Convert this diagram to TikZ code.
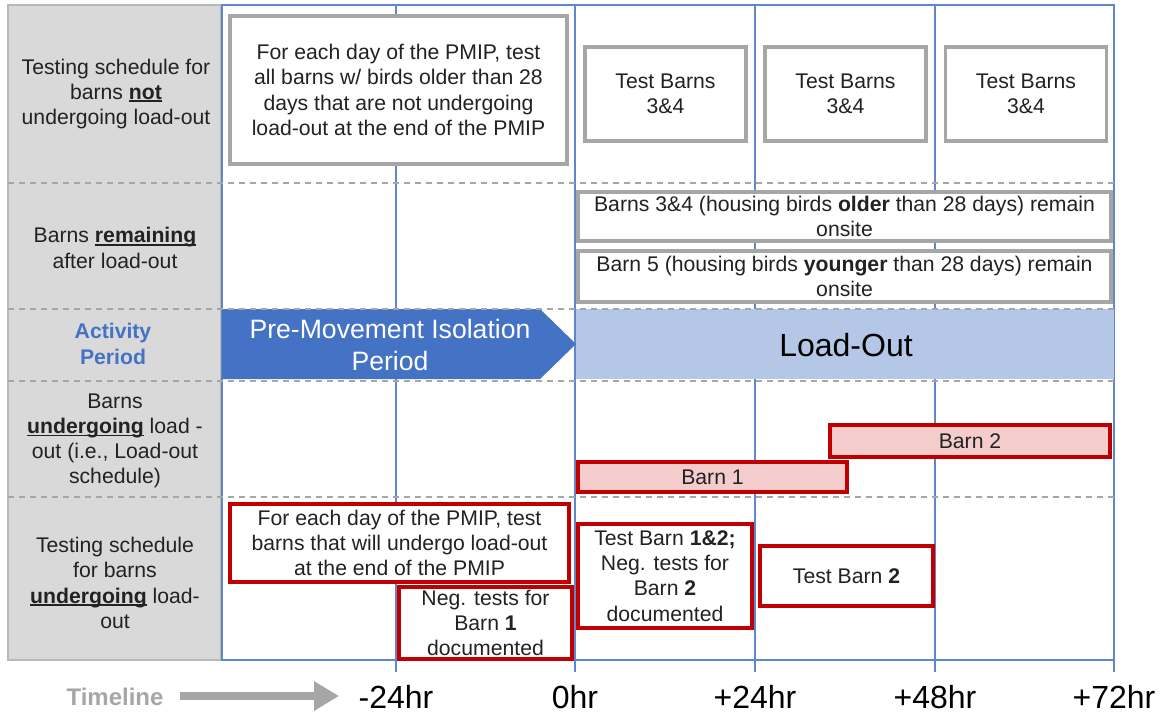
\documentclass[tikz,border=0pt]{standalone}
\usepackage{fontspec}
\setmainfont{Liberation Sans}
\usetikzlibrary{arrows.meta}

\definecolor{gridblue}{HTML}{4472C4}
\definecolor{bandblue}{HTML}{B4C7E7}
\definecolor{boxgray}{HTML}{A6A6A6}
\definecolor{labelgray}{HTML}{D9D9D9}
\definecolor{barred}{HTML}{C00000}
\definecolor{barpink}{HTML}{F4CCCC}
\definecolor{ink}{HTML}{222222}

% bold word with a rule close under the baseline
\newcommand{\bul}[1]{\setbox0\hbox{\textbf{#1}}\rlap{\rule[-1.4pt]{\wd0}{0.9pt}}\box0\relax}

\tikzset{
    txt/.style={font=\fontsize{10.6}{12.6}\selectfont, text=ink, align=center, inner sep=0pt},
    graybox/.style={txt, draw=boxgray, line width=1.8pt, fill=white},
    redbox/.style={txt, draw=barred, line width=1.6pt, fill=white},
    loadbar/.style={redbox, fill=barpink},
    rowsep/.style={draw=boxgray, dash pattern=on 3pt off 2.5pt, line width=0.8pt},
    gridline/.style={draw=gridblue!85, line width=0.55pt},
    hour/.style={font=\fontsize{16}{18}\selectfont, text=black},
}

\begin{document}
\begin{tikzpicture}[x=0.5pt, y=-0.5pt]
    \useasboundingbox (0,0) rectangle (1165,717);

    % label column and time grid
    \fill[labelgray] (8,5) rectangle (221,660);
    \draw[boxgray!80, line width=0.8pt] (8,5) rectangle (221,660);
    \draw[gridline] (222,5) rectangle (1114,660);
    \foreach \x in {396,575,755,935}
        \draw[gridline] (\x,5) -- (\x,672);
    \draw[gridline] (1114,660) -- (1114,672);

    % activity period bands
    \fill[gridblue] (222,309) -- (540,309) -- (576,344) -- (540,379) -- (222,379) -- cycle;
    \node[font=\fontsize{13.3}{16}\selectfont, text=white, align=center] (pmip) at (390,345)
        {Pre-Movement Isolation\\Period};
    \fill[bandblue] (576,309) rectangle (1114,379);
    \node[font=\fontsize{16}{18}\selectfont, text=black] (loadout) at (846,345) {Load-Out};

    % row separators
    \foreach \y in {183,309,381,497}
        \draw[rowsep] (8,\y) -- (1114,\y);

    % row labels
    \node[txt] (notlbl) at (116,94) {Testing schedule for\\barns \bul{not}\\undergoing load-out};
    \node[txt] (remlbl) at (115,248) {Barns \bul{remaining}\\after load-out};
    \node[txt, text=gridblue, font=\bfseries\fontsize{10.6}{12.6}\selectfont] (actlbl) at (113,344) {Activity\\Period};
    \node[txt] (underlbl) at (115,441) {Barns\\\bul{undergoing} load -\\out (i.e., Load-out\\schedule)};
    \node[txt] (testlbl) at (115,583) {Testing schedule\\for barns\\\bul{undergoing} load-\\out};

    % barns not undergoing load-out
    \node[graybox, minimum width=168.5pt, minimum height=74pt] (pmipall) at (398.5,90)
        {For each day of the PMIP, test\\all barns w/ birds older than 28\\days that are not undergoing\\load-out at the end of the PMIP};
    \foreach \x/\n in {665.5/1, 845.5/2, 1026/3}
        \node[graybox, minimum width=80.5pt, minimum height=47pt] (test\n) at (\x,94) {Test Barns\\3\&4};

    % barns remaining
    \node[graybox, minimum width=266.5pt, minimum height=24.5pt] (older) at (844.5,216.5)
        {Barns 3\&4 (housing birds \textbf{older} than 28 days) remain\\onsite};
    \node[graybox, minimum width=266.5pt, minimum height=25.5pt] (younger) at (844.5,276.5)
        {Barn 5 (housing birds \textbf{younger} than 28 days) remain\\onsite};

    % load-out schedule
    \node[loadbar, minimum width=140pt, minimum height=16pt] (barn2) at (970,441) {Barn 2};
    \node[loadbar, minimum width=134.5pt, minimum height=15pt] (barn1) at (712.5,477) {Barn 1};

    % testing of barns undergoing load-out
    \node[redbox, minimum width=169.5pt, minimum height=39pt] (pmiptest) at (399.5,543)
        {For each day of the PMIP, test\\barns that will undergo load-out\\at the end of the PMIP};
    \node[redbox, minimum width=86.5pt, minimum height=36pt] (neg1) at (485.5,623)
        {Neg. tests for\\Barn \textbf{1}\\documented};
    \node[redbox, minimum width=87pt, minimum height=52pt] (test12) at (665,576)
        {Test Barn \textbf{1\&2;}\\Neg. tests for\\Barn \textbf{2}\\documented};
    \node[redbox, minimum width=86.5pt, minimum height=30pt] (testtwo) at (846.5,576)
        {Test Barn \textbf{2}};

    % timeline
    \node[font=\bfseries\fontsize{12}{14}\selectfont, text=boxgray] (timeline) at (115,697) {Timeline};
    \coordinate (tlstart) at (180,696);
    \coordinate (tlend) at (339,696);
    \draw[boxgray, line width=4pt, -{Triangle[length=12.5pt, width=14pt]}] (tlstart) -- (tlend);
    \foreach \x/\t in {396/-24hr, 575/0hr, 755/+24hr, 935/+48hr, 1114/+72hr}
        \node[hour] (h\x) at (\x,697) {\t};
\end{tikzpicture}
\end{document}
